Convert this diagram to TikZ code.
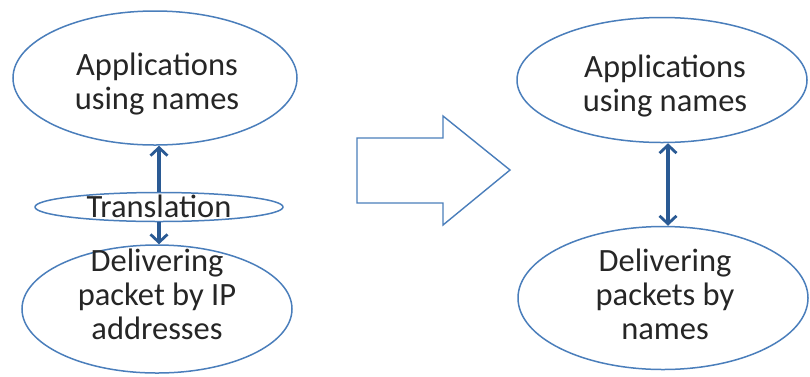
\documentclass[tikz,border=0pt]{standalone}
\usepackage{fontspec}
\setmainfont{Carlito}
\usetikzlibrary{shapes.geometric,arrows.meta}
\definecolor{rim}{HTML}{4A7EBB}
\definecolor{link}{HTML}{2A5A94}
\definecolor{ink}{HTML}{262626}
\tikzset{
  bubble/.style={draw=rim, line width=1.5pt, ellipse, inner sep=0pt},
  caption/.style={text=ink, align=center, font=\fontsize{32.5}{34}\selectfont, inner sep=0pt},
  tip/.tip={Straight Barb[length=8pt,width=17pt,line width=2.8pt]},
  linkarrow/.style={draw=link, line width=3.2pt, tip-tip},
  uparrow/.style={draw=link, line width=3.2pt, -tip},
  blockarrow/.style={draw=rim, line width=1.4pt, line join=miter, fill=white}
}
\begin{document}
\begin{tikzpicture}[x=1pt,y=-1pt]
  \fill[white] (0,0) rectangle (810,376);
  \useasboundingbox (0,0) rectangle (810,376);

  % left column: names translated to IP addresses
  \node[bubble, minimum width=284pt, minimum height=134pt] (appL) at (155,78) {};
  \node[caption] (appLt) at (157,84) {Applications\\using names};
  \node[bubble, minimum width=248pt, minimum height=29pt] (trans) at (159,207) {};
  \node[caption] (transt) at (159,206) {Translation};
  \node[bubble, minimum width=270pt, minimum height=128pt] (delL) at (157,309) {};
  \node[caption] (delLt) at (157,294) {Delivering\\packet by IP\\addresses};

  \draw[uparrow] (trans.north) -- (trans.north |- appL.south);
  \draw[uparrow] (trans.south) -- (trans.south |- delL.north);

  % block arrow between the two columns
  \coordinate (ba1) at (357,138);
  \coordinate (ba2) at (443,138);
  \coordinate (ba3) at (443,116);
  \coordinate (ba4) at (510,170);
  \coordinate (ba5) at (443,225);
  \coordinate (ba6) at (443,203);
  \coordinate (ba7) at (357,203);
  \draw[blockarrow] (ba1) -- (ba2) -- (ba3) -- (ba4) -- (ba5) -- (ba6) -- (ba7) -- cycle;

  % right column: packets delivered by names
  \node[bubble, minimum width=290pt, minimum height=125pt] (appR) at (662,80) {};
  \node[caption] (appRt) at (665,86) {Applications\\using names};
  \node[bubble, minimum width=290pt, minimum height=143pt] (delR) at (663,298) {};
  \node[caption] (delRt) at (665,294) {Delivering\\packets by\\names};

  \coordinate (linkTop) at ([xshift=6pt]appR.south);
  \draw[linkarrow] (linkTop) -- (linkTop |- delR.north);
\end{tikzpicture}
\end{document}
